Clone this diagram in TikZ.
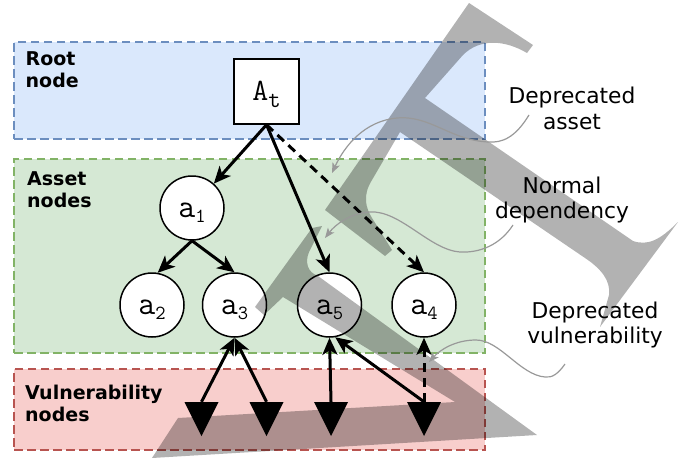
\documentclass[tikz,border=0pt]{standalone}
\usepackage{fontspec}
\newfontfamily\lblfont{DejaVu Sans}
\usetikzlibrary{arrows.meta}
\definecolor{bluefill}{HTML}{DAE8FC}
\definecolor{bluedraw}{HTML}{6C8EBF}
\definecolor{greenfill}{HTML}{D5E8D4}
\definecolor{greendraw}{HTML}{82B366}
\definecolor{redfill}{HTML}{F8CECC}
\definecolor{reddraw}{HTML}{B85450}
\definecolor{conn}{HTML}{999999}
\newcommand{\assetlbl}[2]{\raisebox{-9.5pt}[0pt][0pt]{\ttfamily\fontsize{33}{33}\selectfont #1\raisebox{-5pt}{\fontsize{20}{20}\selectfont #2}}}
\newcommand{\rootlbl}{\raisebox{-8.5pt}[0pt][0pt]{\ttfamily\fontsize{31}{31}\selectfont A\raisebox{-7pt}{\fontsize{24}{24}\selectfont t}}}
\begin{document}
\begin{tikzpicture}[x=1pt,y=-1pt,
  layerbox/.style={minimum width=471pt, inner sep=0pt, line width=2.6pt, dash pattern=on 8.5pt off 4.5pt},
  layerlabel/.style={anchor=north west, inner sep=0pt, align=left, font=\lblfont\bfseries\fontsize{19}{22}\selectfont},
  note/.style={inner sep=0pt, align=center, font=\lblfont\fontsize{21.75}{25.5}\selectfont},
  asset/.style={circle, draw, fill=white, line width=1.5pt, minimum size=64pt, inner sep=0pt},
  rootnode/.style={rectangle, draw, fill=white, line width=1.5pt, minimum size=65pt, inner sep=0pt},
  vuln/.style={minimum size=34pt, inner sep=0pt, path picture={\fill (path picture bounding box.north west) -- (path picture bounding box.north east) -- (path picture bounding box.south) -- cycle;}},
  dep/.style={line width=3pt, -{Stealth[length=17pt,width=15pt,inset=4.5pt]}},
  depr/.style={dep, dash pattern=on 9pt off 6pt},
  callout/.style={draw=conn, line width=1.2pt, -{Stealth[length=10pt,width=8pt,inset=2.5pt]}},
  wm/.style={fill=black, fill opacity=0.3}
]
\useasboundingbox (0,0) rectangle (694,458);
% layers
\node[layerbox, draw=bluedraw, fill=bluefill, minimum height=97pt] (rootL) at (249.5,90.5) {};
\node[layerbox, draw=greendraw, fill=greenfill, minimum height=194pt] (assetL) at (249.5,256) {};
\node[layerbox, draw=reddraw, fill=redfill, minimum height=81pt] (vulnL) at (249.5,409.5) {};
\node[layerlabel] (rootT) at (25.5,51.6) {Root\\node};
\node[layerlabel] (assetT) at (27,171.8) {Asset\\nodes};
\node[layerlabel] (vulnT) at (25,384.6) {Vulnerability\\nodes};
% notes
\node[note] (daT) at (572,108.6) {Deprecated\\asset};
\node[note] (ndT) at (562,200) {Normal\\dependency};
\node[note] (dvT) at (595,325) {Deprecated\\vulnerability};
% nodes
\node[rootnode] (At) at (266.5,91.5) {\rootlbl};
\node[asset] (a1) at (192,208) {\assetlbl{a}{1}};
\node[asset] (a2) at (152,305) {\assetlbl{a}{2}};
\node[asset] (a3) at (234.5,305) {\assetlbl{a}{3}};
\node[asset] (a5) at (329.5,305) {\assetlbl{a}{5}};
\node[asset] (a4) at (424,305) {\assetlbl{a}{4}};
\node[vuln] (t1) at (201.5,419) {};
\node[vuln] (t2) at (266.5,419) {};
\node[vuln] (t3) at (331,419) {};
\node[vuln] (t4) at (424,419) {};
% dependencies
\draw[dep] (At.south) -- (a1);
\draw[dep] (a1.south) -- (a2.80);
\draw[dep] (a1.south) -- (a3.north);
\draw[dep] (At.south) -- (a5.north);
\draw[depr] (At.south) -- (a4.north);
\draw[dep] (t1.north) -- (a3.south);
\draw[dep] (t2.north) -- (a3.south);
\draw[dep] (t3.north) -- (a5.south);
\draw[dep] (t4.north) -- (a5.-80);
\draw[depr] (t4.north) -- (a4.south);
% watermark letter
\fill[wm] (469,3) -- (533,45) -- (527,53) .. controls (505,40) and (480,38) .. (463,55) -- (425,98) -- (633,241)
  .. controls (648,246) and (660,240) .. (678,222) -- (600,327) -- (609,295)
  .. controls (611,280) and (600,268) .. (585,258) -- (400,132) -- (372,180)
  .. controls (362,196) and (366,208) .. (372,218) -- (392,250) -- (385,256) -- (325,210) -- cycle;
\fill[wm] (312,228) -- (322,226) -- (309,252) .. controls (305,262) and (307,272) .. (318,276) -- (537,435)
  -- (152,458) -- (178,418) -- (455,402) -- (283,297) -- (264,315) -- (255,307) -- cycle;
% callouts
\coordinate (daS) at (529,115);
\coordinate (daE) at (332,173);
\coordinate (ndS) at (513,225);
\coordinate (ndE) at (325,238);
\coordinate (dvS) at (565,364);
\coordinate (dvE) at (429,362);
\draw[callout] (daS) .. controls (515,138) and (502,143) .. (488,142) .. controls (450,140) and (430,115) .. (397,118) .. controls (365,121) and (345,145) .. (daE);
\draw[callout] (ndS) .. controls (500,245) and (480,253) .. (460,252) .. controls (430,250) and (400,210) .. (370,212) .. controls (350,213) and (335,225) .. (ndE);
\draw[callout] (dvS) .. controls (558,374) and (552,378) .. (545,377) .. controls (520,375) and (500,340) .. (476,340) .. controls (455,340) and (440,350) .. (dvE);
\end{tikzpicture}
\end{document}
